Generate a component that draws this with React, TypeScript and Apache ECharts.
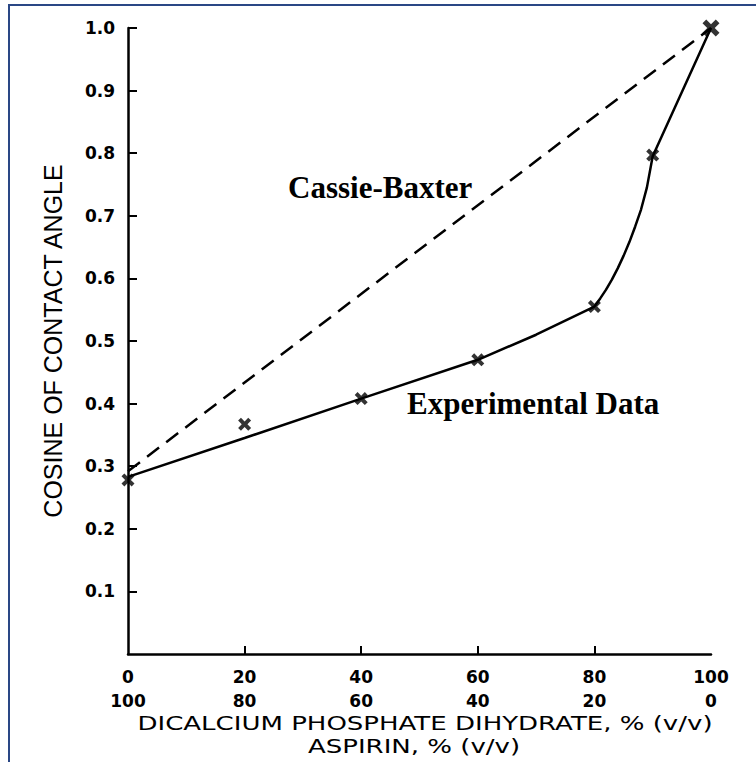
import React, { useEffect, useRef } from "react";
import * as echarts from "echarts";

// Experimental data points (x = dicalcium phosphate dihydrate %, y = cosine of contact angle)
const expX = [0, 20, 40, 60, 80, 90, 100];
const expY = [0.278, 0.367, 0.408, 0.47, 0.555, 0.797, 1.0];

// Curve drawn through experimental data
const fitX = [0, 20, 40, 60, 70, 80, 81, 82, 83, 84, 85, 86, 87, 88, 89, 90, 100];
const fitY = [0.283, 0.345, 0.408, 0.47, 0.51, 0.555, 0.568, 0.582, 0.598, 0.616, 0.636, 0.658, 0.683, 0.71, 0.745, 0.795, 1.0];

// Cassie-Baxter prediction
const cbX = [0, 100];
const cbY = [0.292, 1.0];

const xTicks = [0, 20, 40, 60, 80, 100];
const yTicks = [0.1, 0.2, 0.3, 0.4, 0.5, 0.6, 0.7, 0.8, 0.9, 1.0];

const xTitle1 = "DICALCIUM PHOSPHATE DIHYDRATE, % (v/v)";
const xTitle2 = "ASPIRIN, % (v/v)";
const yTitle = "COSINE OF CONTACT ANGLE";

const X_PATH =
  "path://M0,2.2 L2.2,0 L5,2.8 L7.8,0 L10,2.2 L7.2,5 L10,7.8 L7.8,10 L5,7.2 L2.2,10 L0,7.8 L2.8,5 Z";

export default function App() {
  const ref = useRef<HTMLDivElement>(null);
  useEffect(() => {
    document.body.style.margin = "0";
    const chart = echarts.init(ref.current!, null, { renderer: "svg" });
    const tickFont = "'DejaVu Sans', 'Liberation Sans', sans-serif";
    chart.setOption({
      animation: false,
      backgroundColor: "#ffffff",
      grid: { left: 128, right: 45, top: 28, bottom: 108 },
      xAxis: {
        type: "value",
        min: 0,
        max: 100,
        interval: 20,
        axisLine: { show: true, lineStyle: { color: "#000", width: 2.5 } },
        axisTick: {
          show: true,
          inside: true,
          length: 8,
          lineStyle: { color: "#000", width: 2 },
          customValues: [20, 40, 60, 80],
        },
        axisLabel: {
          customValues: xTicks,
          formatter: (v: number) => `${v}\n${100 - v}`,
          fontFamily: tickFont,
          fontWeight: "bold",
          fontSize: 17,
          lineHeight: 24,
          color: "#000",
          margin: 11,
        },
        splitLine: { show: false },
      },
      yAxis: {
        type: "value",
        min: 0,
        max: 1.0,
        interval: 0.1,
        name: yTitle,
        nameLocation: "middle",
        nameRotate: 90,
        nameGap: 63,
        nameTextStyle: {
          fontFamily: "'Liberation Sans Narrow', 'Liberation Sans', sans-serif",
          fontSize: 25,
          color: "#000",
        },
        axisLine: { show: true, lineStyle: { color: "#000", width: 2.5 } },
        axisTick: {
          show: true,
          inside: true,
          length: 9,
          lineStyle: { color: "#000", width: 2 },
          customValues: yTicks,
        },
        axisLabel: {
          customValues: yTicks,
          formatter: (v: number) => v.toFixed(1),
          fontFamily: tickFont,
          fontWeight: "bold",
          fontSize: 17,
          color: "#000",
          margin: 13,
        },
        splitLine: { show: false },
      },
      series: [
        {
          name: "Cassie-Baxter",
          type: "line",
          data: cbX.map((x, i) => [x, cbY[i]]),
          symbol: "none",
          lineStyle: { color: "#000", width: 2.5, type: [15, 9] },
          z: 2,
        },
        {
          name: "Curve",
          type: "line",
          data: fitX.map((x, i) => [x, fitY[i]]),
          symbol: "none",
          smooth: false,
          lineStyle: { color: "#000", width: 2.5 },
          z: 3,
        },
        {
          name: "Experimental Data",
          type: "scatter",
          data: expX.map((x, i) => [x, expY[i]]),
          symbol: X_PATH,
          symbolSize: (v: number[]) => (v[0] === 100 ? 17 : 13),
          itemStyle: { color: "#000" },
          z: 4,
        },
      ],
      graphic: [
        {
          type: "rect",
          shape: { x: 9, y: 5, width: 800, height: 800 },
          style: { fill: "none", stroke: "#2a4785", lineWidth: 2 },
          silent: true,
        },
        {
          type: "text",
          x: 425,
          y: 723,
          scaleX: 1.37,
          style: {
            text: xTitle1,
            font: "19px 'DejaVu Sans', 'Liberation Sans', sans-serif",
            fill: "#000",
            textAlign: "center",
            textVerticalAlign: "middle",
          },
        },
        {
          type: "text",
          x: 414,
          y: 746,
          scaleX: 1.37,
          style: {
            text: xTitle2,
            font: "19px 'DejaVu Sans', 'Liberation Sans', sans-serif",
            fill: "#000",
            textAlign: "center",
            textVerticalAlign: "middle",
          },
        },
        {
          type: "text",
          x: 288,
          y: 187,
          style: {
            text: "Cassie-Baxter",
            font: "bold 31px 'Liberation Serif', 'Times New Roman', serif",
            fill: "#000",
            textAlign: "left",
            textVerticalAlign: "middle",
          },
        },
        {
          type: "text",
          x: 407,
          y: 403,
          style: {
            text: "Experimental Data",
            font: "bold 31px 'Liberation Serif', 'Times New Roman', serif",
            fill: "#000",
            textAlign: "left",
            textVerticalAlign: "middle",
          },
        },
      ],
    });
    return () => chart.dispose();
  }, []);
  return <div ref={ref} style={{ width: 756, height: 762 }} />;
}
